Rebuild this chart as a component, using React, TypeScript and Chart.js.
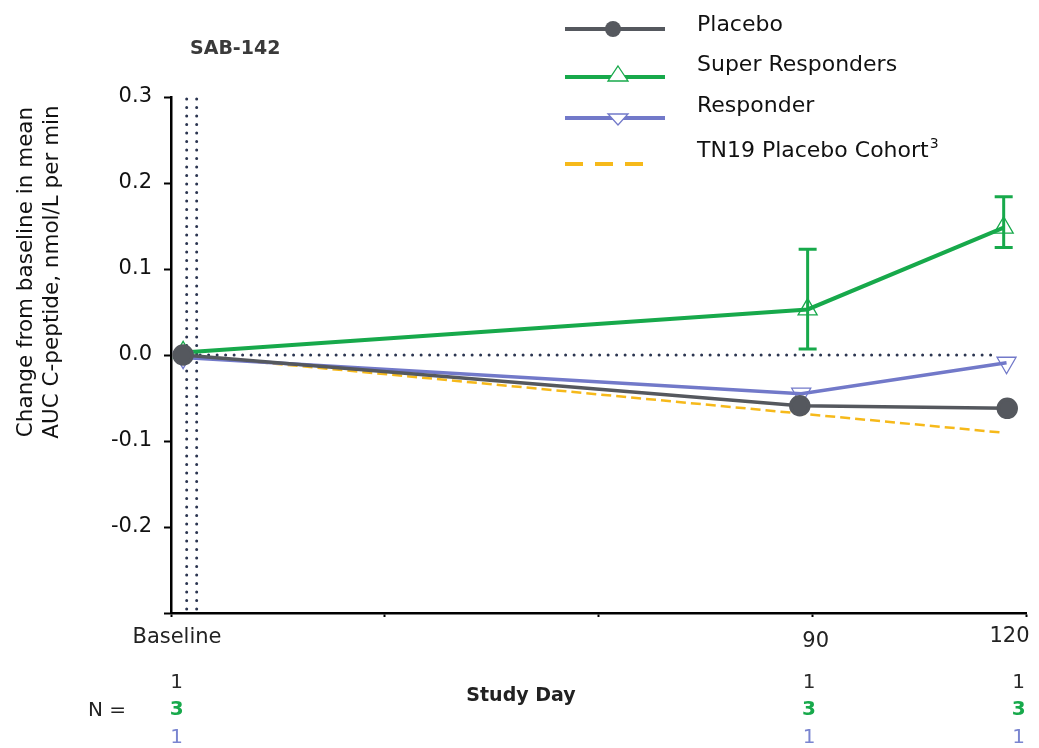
import React, { useEffect, useRef } from "react";
import { Chart, registerables } from "chart.js";

Chart.register(...registerables);

// ---- data ----
const seriesNames = ["Placebo", "Super Responders", "Responder", "TN19 Placebo Cohort"];
const placeboX = [1.7, 88.2, 117.3];
const placeboY = [0, -0.059, -0.062];
const superX = [1.7, 89.3, 116.8];
const superY = [0.003, 0.053, 0.148];
const superErrLow = [null, 0.007, 0.125];
const superErrHigh = [null, 0.123, 0.184];
const responderX = [1.7, 88.4, 117.2];
const responderY = [-0.003, -0.045, -0.009];
const tn19X = [1.7, 88.2, 116.3];
const tn19Y = [0, -0.068, -0.09];
const xTickValues = [0, 90, 120];
const xTickLabels = ["Baseline", "90", "120"];
const nDays = [0.8, 89.5, 118.9];
const nPlacebo = [1, 1, 1];
const nSuper = [3, 3, 3];
const nResponder = [1, 1, 1];
const refVerticalX = [2.2, 3.6];
const refHorizontal = { y: 0, from: 1.7, to: 115.5 };

const COL_PLACEBO = "#55585e";
const COL_SUPER = "#17a94b";
const COL_RESP = "#7279c9";
const COL_TN19 = "#f6b91a";
const COL_DOT = "#2b3550";
const FONT = "'DejaVu Sans', sans-serif";

const toPts = (xs: number[], ys: number[]) => xs.map((x, i) => ({ x, y: ys[i] }));

const overlayPlugin = {
  id: "overlay",
  beforeDatasetsDraw(chart: any) {
    const { ctx, chartArea, scales } = chart;
    const xs = scales.x, ys = scales.y;
    ctx.save();
    ctx.strokeStyle = COL_DOT;
    ctx.lineWidth = 3;
    ctx.lineCap = "round";
    ctx.setLineDash([0, 8.5]);
    refVerticalX.forEach((v) => {
      const px = xs.getPixelForValue(v);
      ctx.beginPath();
      ctx.moveTo(px, chartArea.top + 2);
      ctx.lineTo(px, chartArea.bottom - 2);
      ctx.stroke();
    });
    const py = ys.getPixelForValue(refHorizontal.y);
    ctx.beginPath();
    ctx.moveTo(xs.getPixelForValue(refHorizontal.from), py);
    ctx.lineTo(xs.getPixelForValue(refHorizontal.to), py);
    ctx.stroke();
    ctx.restore();
  },
  afterDatasetsDraw(chart: any) {
    const { ctx, scales } = chart;
    const xs = scales.x, ys = scales.y;
    ctx.save();
    ctx.strokeStyle = COL_SUPER;
    ctx.lineWidth = 3;
    superX.forEach((xv, i) => {
      const lo = superErrLow[i], hi = superErrHigh[i];
      if (lo == null || hi == null) return;
      const px = xs.getPixelForValue(xv);
      const pl = ys.getPixelForValue(lo), ph = ys.getPixelForValue(hi);
      ctx.beginPath();
      ctx.moveTo(px, pl); ctx.lineTo(px, ph);
      ctx.moveTo(px - 9, pl); ctx.lineTo(px + 9, pl);
      ctx.moveTo(px - 9, ph); ctx.lineTo(px + 9, ph);
      ctx.stroke();
    });
    ctx.restore();
  },
  afterDraw(chart: any) {
    const { ctx, scales, chartArea } = chart;
    const xs = scales.x;
    ctx.save();
    ctx.textBaseline = "middle";

    // x tick labels
    ctx.fillStyle = "#222";
    ctx.font = `21px ${FONT}`;
    xTickValues.forEach((v, i) => {
      const px = xs.getPixelForValue(v);
      if (i === xTickValues.length - 1) {
        ctx.textAlign = "right";
        ctx.fillText(xTickLabels[i], px + 3, chartArea.bottom + 24);
      } else {
        ctx.textAlign = "center";
        ctx.fillText(xTickLabels[i], px + (i === 0 ? 6 : 3), chartArea.bottom + (i === 0 ? 25 : 29));
      }
    });

    // y title
    ctx.fillStyle = "#111";
    ctx.font = `21.5px ${FONT}`;
    ctx.textAlign = "center";
    ctx.save();
    ctx.translate(26, 272);
    ctx.rotate(-Math.PI / 2);
    ctx.fillText("Change from baseline in mean", 0, 0);
    ctx.restore();
    ctx.save();
    ctx.translate(52, 272);
    ctx.rotate(-Math.PI / 2);
    ctx.fillText("AUC C-peptide, nmol/L per min", 0, 0);
    ctx.restore();

    // panel label
    ctx.fillStyle = "#3a3a3a";
    ctx.font = `bold 19px ${FONT}`;
    ctx.textAlign = "left";
    ctx.fillText("SAB-142", 190, 49);

    // x title
    ctx.fillStyle = "#222";
    ctx.font = `bold 19px ${FONT}`;
    ctx.textAlign = "center";
    ctx.fillText("Study Day", 521, 696);

    // N rows
    ctx.font = `20px ${FONT}`;
    ctx.fillStyle = "#222";
    ctx.textAlign = "right";
    ctx.fillText("N =", 126, 711);
    ctx.textAlign = "center";
    const rows: [number[], string, string][] = [
      [nPlacebo, "#2a2a2a", "normal"],
      [nSuper, COL_SUPER, "bold"],
      [nResponder, "#7a85d0", "normal"],
    ];
    const rowY = [683, 710, 738];
    rows.forEach(([vals, col, w], r) => {
      ctx.fillStyle = col;
      ctx.font = `${w} 20px ${FONT}`;
      vals.forEach((v, i) => {
        ctx.fillText(String(v), xs.getPixelForValue(nDays[i]), rowY[r]);
      });
    });

    // legend
    const lx0 = 565, lx1 = 665, tx = 697;
    const items = [
      { ly: 29, ty: 25, col: COL_PLACEBO },
      { ly: 77, ty: 65, col: COL_SUPER },
      { ly: 118, ty: 106, col: COL_RESP },
      { ly: 164, ty: 151, col: COL_TN19 },
    ];
    items.forEach((it, i) => {
      ctx.strokeStyle = it.col;
      ctx.lineCap = "butt";
      ctx.lineWidth = 4;
      if (i === 3) {
        ctx.setLineDash([18, 12]);
        ctx.beginPath(); ctx.moveTo(lx0, it.ly); ctx.lineTo(644, it.ly); ctx.stroke();
        ctx.setLineDash([]);
      } else {
        ctx.beginPath(); ctx.moveTo(lx0, it.ly); ctx.lineTo(lx1, it.ly); ctx.stroke();
      }
      if (i === 0) {
        ctx.fillStyle = COL_PLACEBO;
        ctx.beginPath(); ctx.arc(613, it.ly, 8, 0, Math.PI * 2); ctx.fill();
      } else if (i === 1) {
        ctx.lineWidth = 1.3;
        ctx.fillStyle = "#fff";
        ctx.beginPath();
        ctx.moveTo(618, it.ly - 11); ctx.lineTo(628, it.ly + 4); ctx.lineTo(608, it.ly + 4); ctx.closePath();
        ctx.fill(); ctx.stroke();
      } else if (i === 2) {
        ctx.lineWidth = 1.3;
        ctx.fillStyle = "#fff";
        ctx.beginPath();
        ctx.moveTo(608, it.ly - 4); ctx.lineTo(628, it.ly - 4); ctx.lineTo(618, it.ly + 7); ctx.closePath();
        ctx.fill(); ctx.stroke();
      }
    });
    ctx.fillStyle = "#111";
    ctx.textAlign = "left";
    ctx.font = `22px ${FONT}`;
    seriesNames.forEach((t, i) => ctx.fillText(t, tx, items[i].ty));
    ctx.font = `22px ${FONT}`;
    const w = ctx.measureText(seriesNames[3]).width;
    ctx.font = `14px ${FONT}`;
    ctx.fillText("3", tx + w + 1, items[3].ty - 7);
    ctx.restore();
  },
};

export default function App() {
  const ref = useRef<HTMLCanvasElement | null>(null);
  useEffect(() => {
    if (!ref.current) return;
    const chart = new Chart(ref.current, {
      type: "line",
      data: {
        datasets: [
          {
            label: seriesNames[0],
            data: toPts(placeboX, placeboY),
            borderColor: COL_PLACEBO,
            backgroundColor: COL_PLACEBO,
            borderWidth: 3.5,
            pointRadius: 9,
            pointStyle: "circle",
            pointBackgroundColor: COL_PLACEBO,
            pointBorderColor: COL_PLACEBO,
            order: 0,
          },
          {
            label: seriesNames[1],
            data: toPts(superX, superY),
            borderColor: COL_SUPER,
            borderWidth: 4,
            pointRadius: 11,
            pointStyle: "triangle",
            pointBackgroundColor: "rgba(255,255,255,0)",
            pointBorderColor: COL_SUPER,
            pointBorderWidth: 1.3,
            order: 2,
          },
          {
            label: seriesNames[2],
            data: toPts(responderX, responderY),
            borderColor: COL_RESP,
            borderWidth: 3.5,
            pointRadius: 11,
            pointStyle: "triangle",
            pointRotation: 180,
            pointBackgroundColor: "rgba(255,255,255,0)",
            pointBorderColor: COL_RESP,
            pointBorderWidth: 1.3,
            order: 1,
          },
          {
            label: seriesNames[3],
            data: toPts(tn19X, tn19Y),
            borderColor: COL_TN19,
            borderWidth: 2.5,
            borderDash: [10, 5],
            pointRadius: 0,
            order: 3,
          },
        ],
      },
      options: {
        responsive: false,
        animation: false,
        layout: { padding: { left: 0, top: 97, right: 10, bottom: 0 } },
        plugins: { legend: { display: false }, tooltip: { enabled: false }, title: { display: false } },
        scales: {
          x: {
            type: "linear",
            min: 0,
            max: 120,
            afterFit: (s: any) => { s.height = 135; s.paddingLeft = 0; s.paddingRight = 0; },
            border: { display: true, color: "#000", width: 2.5 },
            grid: { display: true, drawOnChartArea: false, drawTicks: true, tickLength: 4, color: "#000", tickWidth: 2 },
            ticks: {
              stepSize: 30,
              autoSkip: false,
              maxRotation: 0,
              display: false,
            },
          },
          y: {
            min: -0.3,
            max: 0.3,
            afterFit: (s: any) => { s.width = 171; },
            border: { display: true, color: "#000", width: 2.5 },
            grid: { display: true, drawOnChartArea: false, drawTicks: true, tickLength: 7, color: "#000", tickWidth: 2 },
            ticks: {
              stepSize: 0.1,
              padding: 12,
              color: "#111",
              font: { family: FONT, size: 21 },
              callback: (v: any) => (Math.abs(Number(v) + 0.3) < 1e-9 ? "" : Number(v).toFixed(1)),
            },
          },
        },
      },
      plugins: [overlayPlugin],
    } as any);
    return () => chart.destroy();
  }, []);
  return (
    <div style={{ position: "fixed", left: 0, top: 0, width: 1039, height: 748, background: "#fff" }}>
      <canvas ref={ref} width={1039} height={748} style={{ display: "block" }} />
    </div>
  );
}
